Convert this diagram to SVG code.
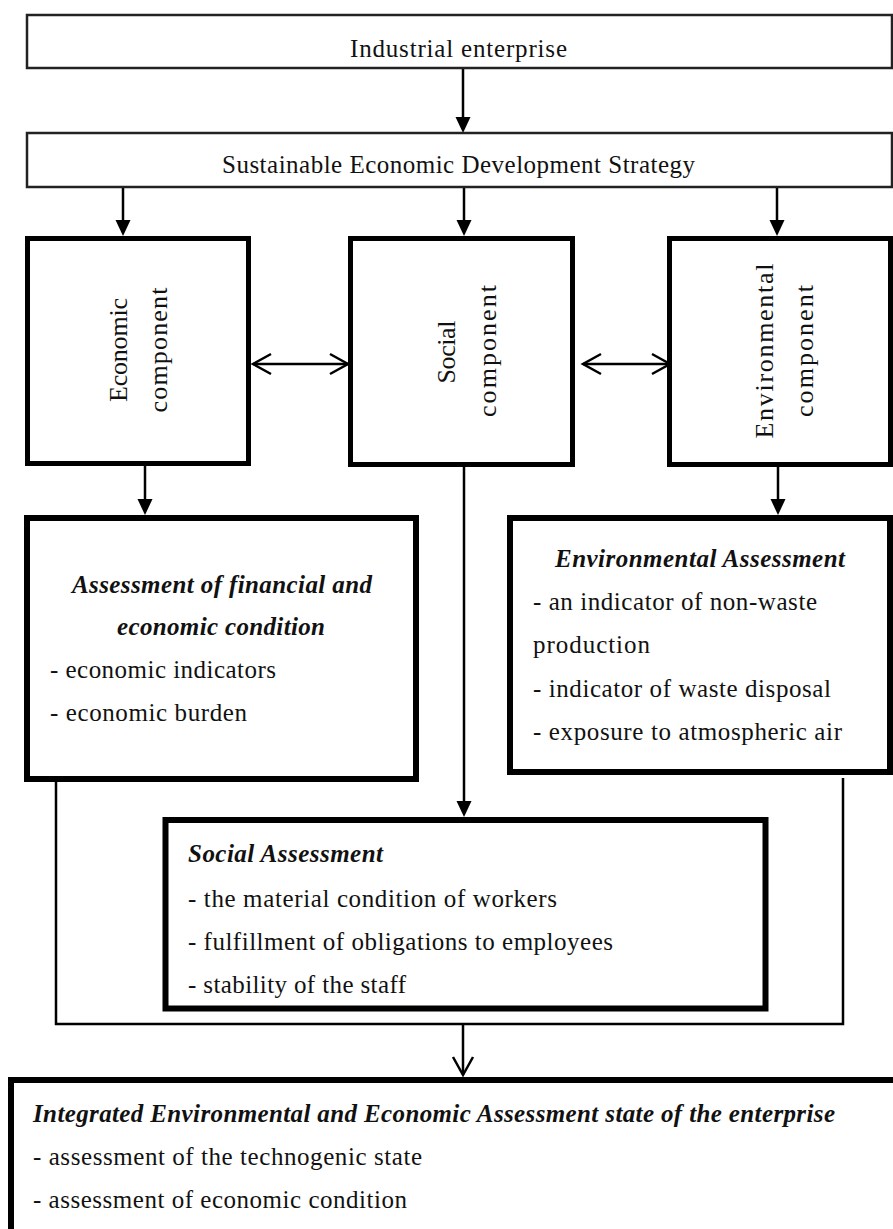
<svg xmlns="http://www.w3.org/2000/svg" width="893" height="1229" viewBox="0 0 893 1229">
<style>
text{font-family:"Liberation Serif","Times New Roman",serif;font-size:25px;fill:#111}
.h{font-style:italic;font-weight:bold}
.c{text-anchor:middle}
.rot{font-size:26px;text-anchor:middle}
.thin{fill:#fff;stroke:#222;stroke-width:2.5}
.thick{fill:#fff;stroke:#000;stroke-width:5}
.heavy{fill:#fff;stroke:#000;stroke-width:6}
.ln{fill:none;stroke:#000;stroke-width:2.5}
</style>
<defs>
<marker id="tri" markerUnits="userSpaceOnUse" markerWidth="16" markerHeight="16" viewBox="0 0 16 16" refX="0" refY="8" orient="auto">
<path d="M0,0.5 L16,8 L0,15.5 z" fill="#000"/>
</marker>
<marker id="chev" markerUnits="userSpaceOnUse" markerWidth="24" markerHeight="24" viewBox="-2 -2 24 24" refX="18" refY="10" orient="auto-start-reverse">
<path d="M0,0 L18,10 L0,20" fill="none" stroke="#000" stroke-width="2.5"/>
</marker>
</defs>
<rect width="893" height="1229" fill="#fff"/>

<g id="connectors">
<path class="ln" d="M463,68 V117" marker-end="url(#tri)"/>
<path class="ln" d="M123,187 V220" marker-end="url(#tri)"/>
<path class="ln" d="M464,187 V220" marker-end="url(#tri)"/>
<path class="ln" d="M777,187 V220" marker-end="url(#tri)"/>
<path class="ln" d="M253,364 H348" marker-start="url(#chev)" marker-end="url(#chev)"/>
<path class="ln" d="M583,364 H670" marker-start="url(#chev)" marker-end="url(#chev)"/>
<path class="ln" d="M145,466 V499" marker-end="url(#tri)"/>
<path class="ln" d="M778,467 V499" marker-end="url(#tri)"/>
<path class="ln" d="M464,467 V801" marker-end="url(#tri)"/>
<path class="ln" d="M56,782 V1024 H843 V778"/>
<path class="ln" d="M463,1024 V1075" marker-end="url(#chev)"/>
</g>

<g id="industrial-enterprise">
<rect class="thin" x="27" y="15" width="865" height="53"/>
<text class="c" x="458.5" y="57" textLength="217">Industrial enterprise</text>
</g>

<g id="strategy">
<rect class="thin" x="27" y="133" width="865" height="54"/>
<text class="c" x="458.5" y="173" textLength="473">Sustainable Economic Development Strategy</text>
</g>

<g id="economic-component">
<rect class="thick" x="27.5" y="238.5" width="221" height="225"/>
<text class="rot" transform="translate(127,350) rotate(-90)" textLength="104">Economic</text>
<text class="rot" transform="translate(167,350) rotate(-90)" textLength="125">component</text>
</g>

<g id="social-component">
<rect class="thick" x="350.5" y="238.5" width="222" height="226"/>
<text class="rot" transform="translate(455,352) rotate(-90)" textLength="63">Social</text>
<text class="rot" transform="translate(496,351) rotate(-90)" textLength="132">component</text>
</g>

<g id="environmental-component">
<rect class="thick" x="669.5" y="238.5" width="221" height="226"/>
<text class="rot" transform="translate(773,351) rotate(-90)" textLength="175">Environmental</text>
<text class="rot" transform="translate(813,351) rotate(-90)" textLength="132">component</text>
</g>

<g id="financial-assessment">
<rect class="heavy" x="27" y="518" width="389" height="261"/>
<text class="h c" x="222" y="593" textLength="300">Assessment of financial and</text>
<text class="h c" x="221" y="635" textLength="208">economic condition</text>
<text x="50" y="678" textLength="226">- economic indicators</text>
<text x="50" y="721" textLength="197">- economic burden</text>
</g>

<g id="environmental-assessment">
<rect class="heavy" x="510" y="518" width="380" height="254"/>
<text class="h c" x="700" y="567" textLength="290">Environmental Assessment</text>
<text x="533" y="610" textLength="284">- an indicator of non-waste</text>
<text x="533" y="653" textLength="117">production</text>
<text x="533" y="697" textLength="298">- indicator of waste disposal</text>
<text x="533" y="740" textLength="309">- exposure to atmospheric air</text>
</g>

<g id="social-assessment">
<rect class="heavy" x="165.5" y="820" width="600" height="188.5"/>
<text class="h" x="188" y="862" textLength="195">Social Assessment</text>
<text x="188" y="907" textLength="369">- the material condition of workers</text>
<text x="188" y="950" textLength="425">- fulfillment of obligations to employees</text>
<text x="188" y="993" textLength="218">- stability of the staff</text>
</g>

<g id="integrated-assessment">
<rect class="heavy" x="11" y="1080" width="900" height="200"/>
<text class="h" x="33" y="1122" textLength="802">Integrated Environmental and Economic Assessment state of the enterprise</text>
<text x="33" y="1165" textLength="389">- assessment of the technogenic state</text>
<text x="33" y="1208" textLength="374">- assessment of economic condition</text>
</g>
</svg>
